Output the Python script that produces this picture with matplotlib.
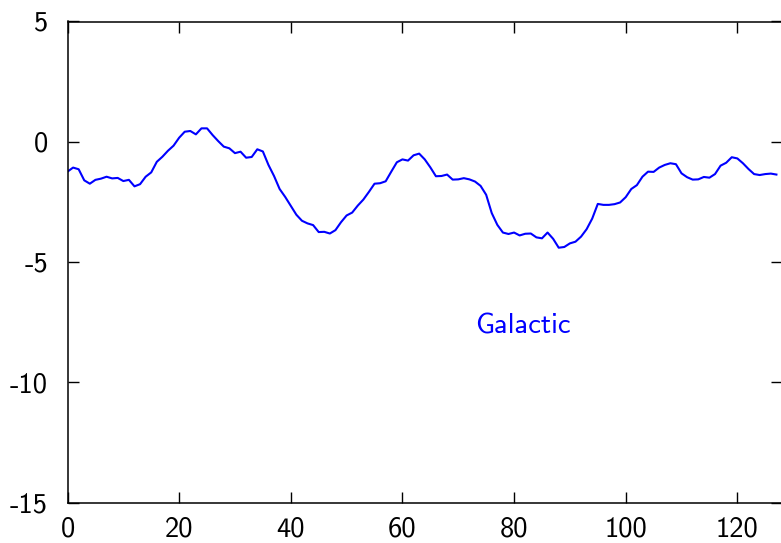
import numpy as np
import matplotlib
matplotlib.use("Agg")
import matplotlib.pyplot as plt

# smoothed galactic component, one sample per unit step
galactic = [
    -1.24, -1.07, -1.14, -1.60, -1.74, -1.58, -1.53, -1.45, -1.52, -1.50,
    -1.63, -1.58, -1.85, -1.76, -1.45, -1.27, -0.83, -0.62, -0.37, -0.16,
    0.17, 0.42, 0.45, 0.31, 0.56, 0.56, 0.28, 0.03, -0.20, -0.27,
    -0.47, -0.41, -0.66, -0.63, -0.31, -0.40, -0.96, -1.42, -1.96, -2.29,
    -2.66, -3.03, -3.28, -3.39, -3.46, -3.75, -3.74, -3.81, -3.67, -3.34,
    -3.06, -2.94, -2.65, -2.40, -2.08, -1.74, -1.72, -1.64, -1.24, -0.85,
    -0.73, -0.78, -0.56, -0.49, -0.73, -1.06, -1.43, -1.42, -1.36, -1.57,
    -1.56, -1.51, -1.56, -1.65, -1.83, -2.20, -2.96, -3.45, -3.77, -3.83,
    -3.77, -3.89, -3.82, -3.81, -3.97, -4.01, -3.77, -4.03, -4.40, -4.37,
    -4.22, -4.15, -3.94, -3.63, -3.19, -2.58, -2.62, -2.62, -2.59, -2.52,
    -2.30, -1.96, -1.80, -1.45, -1.24, -1.25, -1.07, -0.96, -0.89, -0.93,
    -1.31, -1.47, -1.57, -1.56, -1.46, -1.49, -1.34, -0.99, -0.87, -0.64,
    -0.69, -0.89, -1.13, -1.34, -1.38, -1.34, -1.32, -1.36,
]
steps = np.arange(len(galactic))

xticks = [0, 20, 40, 60, 80, 100, 120]
yticks = [-15, -10, -5, 0, 5]

plt.rcParams['font.family'] = ['cmss10', 'DejaVu Sans']
plt.rcParams['axes.unicode_minus'] = False
plt.rcParams['font.size'] = 20.5

W, H = 781, 543
fig = plt.figure(figsize=(W / 100, H / 100), dpi=100)
left, right, top, bottom = 67.5, 782.0, 21.5, 502.8
ax = fig.add_axes([left / W, 1 - bottom / H, (right - left) / W, (bottom - top) / H])

ax.plot(steps, galactic, color='#0000ff', lw=1.5)
ax.text(81.5, -7.65, "Galactic", color='#0000ff', ha='center', va='center', fontsize=20.5)

ax.set_xlim(0, 128)
ax.set_ylim(-15, 5)
ax.set_xticks(xticks)
ax.set_yticks(yticks)
ax.tick_params(direction='in', length=8, width=1.0, top=True, right=True)
ax.tick_params(axis='x', pad=10)
ax.tick_params(axis='y', pad=14)
for s in ax.spines.values():
    s.set_linewidth(1.1)

fig.savefig("out.png", dpi=100)
